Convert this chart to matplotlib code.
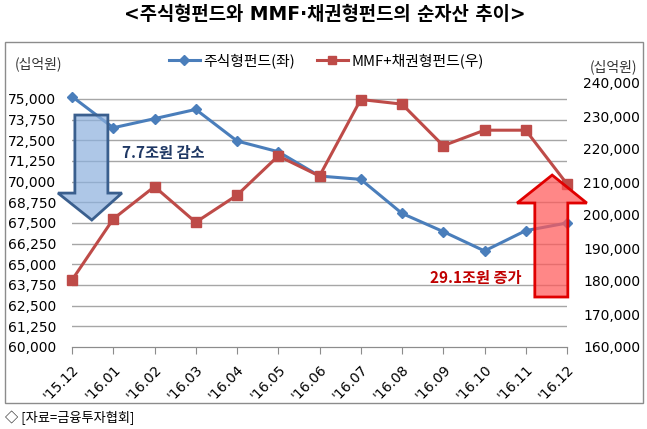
import numpy as np
import matplotlib
matplotlib.use("Agg")
import matplotlib.pyplot as plt
from matplotlib.patches import Polygon, Rectangle
from matplotlib.lines import Line2D

plt.rcParams['font.family'] = ['DejaVu Sans', 'Noto Sans CJK KR']
KR = ['Noto Sans CJK KR', 'DejaVu Sans']

# =====================================================
# Data (십억원)
# =====================================================
months = ["'15.12", "'16.01", "'16.02", "'16.03", "'16.04", "'16.05", "'16.06",
          "'16.07", "'16.08", "'16.09", "'16.10", "'16.11", "'16.12"]

equity_fund = [75150, 73260, 73810, 74370, 72460, 71810, 70340,
               70140, 68080, 66980, 65810, 67040, 67500]

mmf_bond_fund = [180300, 198800, 208600, 197800, 206000, 217900, 211800,
                 235000, 233600, 221000, 225700, 225700, 209400]

left_ticks = np.arange(60000, 75001, 1250)
right_ticks = np.arange(160000, 240001, 10000)

BLUE = "#4a7ebb"
RED = "#be4b48"
GRID = "#a6a6a6"

# =====================================================
# Figure
# =====================================================
W, H = 647, 429
fig = plt.figure(figsize=(W / 100, H / 100), dpi=100)

# outer frame
fig.patches.append(Rectangle((5 / W, 1 - 403 / H), 638 / W, 361 / H,
                             transform=fig.transFigure, fill=False,
                             edgecolor="#8c8c8c", linewidth=1))

ax1 = fig.add_axes([72 / W, 1 - 347 / H, 495 / W, 264 / H])
ax2 = ax1.twinx()

x = np.arange(len(months))

ax1.plot(x, equity_fund, color=BLUE, linewidth=2.2, marker="D",
         markersize=5.5, zorder=3, clip_on=False)
ax2.plot(x, mmf_bond_fund, color=RED, linewidth=2.2, marker="s",
         markersize=7, zorder=3, clip_on=False)

ax1.set_xlim(0, len(months) - 1)
ax1.set_ylim(60000, 60000 + 264 / 248 * 15000)
ax2.set_ylim(160000, 240000)

ax1.set_yticks(left_ticks)
ax1.set_yticklabels([f"{v:,}" for v in left_ticks])
ax2.set_yticks(right_ticks)
ax2.set_yticklabels([f"{v:,}" for v in right_ticks])

ax1.set_xticks(x)
ax1.set_xticklabels(months, rotation=45, ha="right", va="top",
                    rotation_mode="anchor", fontsize=10)

for a in (ax1, ax2):
    for s in ("top", "left", "right"):
        a.spines[s].set_visible(False)
    a.spines["bottom"].set_color("#8c8c8c")
    a.tick_params(axis="y", length=0, labelsize=10, pad=11.5)

ax1.tick_params(axis="x", direction="out", length=5, color="#8c8c8c", pad=6)

for v in left_ticks[1:]:
    ax1.axhline(v, color=GRID, linewidth=1, zorder=0)

# blue arrow (decrease)
blue_arrow = Polygon([(0.07, 74030), (0.87, 74030), (0.87, 69310),
                      (1.21, 69310), (0.48, 67680), (-0.34, 69310),
                      (0.07, 69310)],
                     closed=True, facecolor=(0.55, 0.69, 0.87, 0.7),
                     edgecolor="#3a5f8e", linewidth=2, zorder=4, clip_on=False)
ax1.add_patch(blue_arrow)

# red arrow (increase)
red_arrow = Polygon([(11.22, 175150), (12.02, 175150), (12.02, 203630),
                     (12.48, 203630), (11.64, 212100), (10.79, 203630),
                     (11.22, 203630)],
                    closed=True, facecolor=(1.0, 0.35, 0.35, 0.72),
                    edgecolor="#e00000", linewidth=2, zorder=5, clip_on=False)
ax2.add_patch(red_arrow)

ax1.text(1.21, 71730, "7.7조원 감소", family=KR, fontsize=11,
         fontweight="bold", color="#1f3864", va="center", ha="left", zorder=6)
ax2.text(10.9, 180900, "29.1조원 증가", family=KR, fontsize=11,
         fontweight="bold", color="#c00000", va="center", ha="right", zorder=6)

# title, units, source
fig.text(325 / W, 1 - 15 / H, "<주식형펀드와 MMF·채권형펀드의 순자산 추이>",
         family=['DejaVu Sans', 'Noto Sans CJK KR'], fontsize=13.5,
         fontweight="bold", ha="center", va="center")
fig.text(15 / W, 1 - 64 / H, "(십억원)", family=KR, fontsize=10,
         ha="left", va="center", color="#333333")
fig.text(637 / W, 1 - 67 / H, "(십억원)", family=KR, fontsize=10,
         ha="right", va="center", color="#333333")
fig.text(5 / W, 1 - 418 / H, "◇ [자료=금융투자협회]", family=KR, fontsize=9.5,
         ha="left", va="center")

# legend
handles = [Line2D([], [], color=BLUE, linewidth=2.2, marker="D", markersize=5),
           Line2D([], [], color=RED, linewidth=2.2, marker="s", markersize=6)]
fig.legend(handles, ["주식형펀드(좌)", "MMF+채권형펀드(우)"], loc="center",
           bbox_to_anchor=(326 / W, 1 - 61 / H), ncol=2, frameon=False,
           prop={"family": KR, "size": 10.7}, handlelength=2.1,
           columnspacing=1.5, handletextpad=0.2)

fig.savefig("out.png", dpi=100)
plt.close(fig)
